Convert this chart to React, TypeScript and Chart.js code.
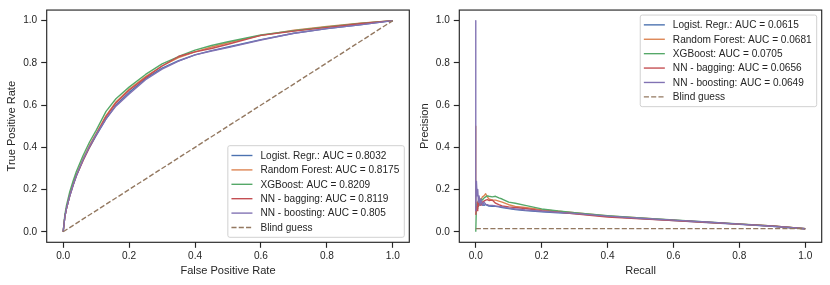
import React, { useEffect, useRef } from "react";
import { Chart, registerables } from "chart.js";

Chart.register(...registerables);

// ---------- data ----------
const modelNames = ["Logist. Regr.", "Random Forest", "XGBoost", "NN - bagging", "NN - boosting"];
const rocAucLabels = ["0.8032", "0.8175", "0.8209", "0.8119", "0.805"];
const prAucLabels = ["0.0615", "0.0681", "0.0705", "0.0656", "0.0649"];
const blindLabel = "Blind guess";

const rocFpr = [0, 0.005, 0.01, 0.02, 0.03, 0.04, 0.06, 0.08, 0.1, 0.13, 0.16, 0.2, 0.25, 0.3, 0.35, 0.4, 0.45, 0.5, 0.6, 0.7, 0.8, 0.9, 1.0];
const rocTprLogit = [0, 0.07, 0.11, 0.17, 0.22, 0.265, 0.34, 0.40, 0.455, 0.535, 0.60, 0.66, 0.725, 0.775, 0.81, 0.838, 0.858, 0.875, 0.91, 0.94, 0.962, 0.98, 1.0];
const rocTprForest = [0, 0.07, 0.11, 0.175, 0.225, 0.27, 0.345, 0.41, 0.465, 0.55, 0.615, 0.675, 0.735, 0.785, 0.825, 0.852, 0.875, 0.895, 0.93, 0.955, 0.972, 0.988, 1.0];
const rocTprXgb = [0, 0.08, 0.125, 0.19, 0.24, 0.285, 0.36, 0.425, 0.48, 0.57, 0.63, 0.685, 0.745, 0.795, 0.83, 0.86, 0.882, 0.90, 0.932, 0.952, 0.97, 0.987, 1.0];
const rocTprBagging = [0, 0.07, 0.11, 0.17, 0.22, 0.265, 0.335, 0.40, 0.46, 0.545, 0.61, 0.67, 0.73, 0.785, 0.83, 0.852, 0.868, 0.888, 0.93, 0.95, 0.968, 0.985, 1.0];
const rocTprBoosting = [0, 0.07, 0.11, 0.17, 0.22, 0.265, 0.34, 0.405, 0.46, 0.535, 0.595, 0.652, 0.72, 0.77, 0.808, 0.838, 0.856, 0.872, 0.908, 0.94, 0.962, 0.98, 1.0];
const rocBlindX = [0, 1];
const rocBlindY = [0, 1];

const prRecall = [0, 0, 0.002, 0.004, 0.006, 0.008, 0.01, 0.013, 0.016, 0.02, 0.025, 0.03, 0.035, 0.04, 0.05, 0.06, 0.07, 0.08, 0.1, 0.12, 0.15, 0.2, 0.25, 0.3, 0.4, 0.5, 0.6, 0.7, 0.8, 0.9, 1.0];
const prPrecLogit = [0.14, 0.14, 0.12, 0.135, 0.125, 0.14, 0.13, 0.125, 0.135, 0.13, 0.125, 0.13, 0.125, 0.122, 0.12, 0.12, 0.118, 0.115, 0.11, 0.105, 0.10, 0.095, 0.09, 0.086, 0.073, 0.063, 0.053, 0.044, 0.035, 0.026, 0.014];
const prPrecForest = [0.5, 0.1, 0.11, 0.14, 0.12, 0.15, 0.14, 0.155, 0.15, 0.165, 0.17, 0.18, 0.165, 0.155, 0.15, 0.15, 0.145, 0.14, 0.128, 0.12, 0.115, 0.105, 0.097, 0.09, 0.075, 0.065, 0.055, 0.045, 0.036, 0.027, 0.014];
const prPrecXgb = [0.0, 0.0, 0.13, 0.11, 0.14, 0.12, 0.15, 0.14, 0.155, 0.15, 0.16, 0.165, 0.17, 0.168, 0.165, 0.168, 0.16, 0.155, 0.14, 0.135, 0.125, 0.108, 0.098, 0.09, 0.076, 0.065, 0.056, 0.046, 0.037, 0.027, 0.014];
const prPrecBagging = [0.08, 0.08, 0.12, 0.1, 0.14, 0.12, 0.13, 0.145, 0.125, 0.14, 0.145, 0.15, 0.152, 0.148, 0.15, 0.135, 0.128, 0.122, 0.118, 0.115, 0.11, 0.1, 0.093, 0.085, 0.07, 0.061, 0.053, 0.045, 0.036, 0.027, 0.014];
const prPrecBoosting = [1.0, 0.1, 0.24, 0.17, 0.2, 0.14, 0.17, 0.13, 0.155, 0.125, 0.14, 0.13, 0.128, 0.125, 0.125, 0.122, 0.12, 0.118, 0.112, 0.108, 0.103, 0.097, 0.092, 0.087, 0.074, 0.064, 0.055, 0.046, 0.036, 0.026, 0.014];
const prBlindX = [0, 1];
const prBlindY = [0.015, 0.015];

const tickValues = [0, 0.2, 0.4, 0.6, 0.8, 1.0];
const axisMin = -0.05;
const axisMax = 1.05;

// ---------- style ----------
const palette = ["#4C72B0", "#DD8452", "#55A868", "#C44E52", "#8172B3"];
const blindColor = "#937860";
const ink = "#262626";
const family = "'Liberation Sans', Arial, Helvetica, sans-serif";
const LW = 1.38;
const DASH = [5.1, 2.2];

const zip = (xs: number[], ys: number[]) => xs.map((x, i) => ({ x, y: ys[i] }));

function buildDatasets(xs: number[], series: number[][], aucs: string[], bx: number[], by: number[]) {
  const ds: any[] = series.map((ys, i) => ({
    label: `${modelNames[i]}: AUC = ${aucs[i]}`,
    data: zip(xs, ys),
    borderColor: palette[i],
    backgroundColor: palette[i],
    borderWidth: LW,
    pointRadius: 0,
    tension: 0,
    fill: false,
    borderJoinStyle: "round",
    order: 10 - i,
  }));
  ds.push({
    label: blindLabel,
    data: zip(bx, by),
    borderColor: blindColor,
    backgroundColor: blindColor,
    borderWidth: LW,
    borderDash: DASH,
    pointRadius: 0,
    tension: 0,
    fill: false,
    order: 0,
  });
  return ds;
}

const framePlugin = {
  id: "mplFrame",
  afterDatasetsDraw(chart: any) {
    const { ctx, chartArea } = chart;
    ctx.save();
    ctx.strokeStyle = ink;
    ctx.lineWidth = 1.15;
    ctx.strokeRect(chartArea.left, chartArea.top, chartArea.right - chartArea.left, chartArea.bottom - chartArea.top);
    ctx.restore();
  },
};

const legendPlugin = {
  id: "mplLegend",
  afterDraw(chart: any, _args: any, opts: any) {
    const { ctx, chartArea } = chart;
    const ds = chart.data.datasets;
    const fontSize = 10.1;
    const rowH = 14.4;
    const padY = 2.6;
    const padL = 3.6;
    const padR = 5;
    const handle = 21;
    const gap = 8;
    const margin = 5;
    ctx.save();
    ctx.font = `${fontSize}px ${family}`;
    const maxW = Math.max(...ds.map((d: any) => ctx.measureText(d.label).width));
    const w = padL + handle + gap + maxW + padR;
    const h = ds.length * rowH + 2 * padY;
    const x = chartArea.right - margin - w;
    const y = opts.loc === "lower right" ? chartArea.bottom - margin - h : chartArea.top + margin;
    const r = 2;
    ctx.beginPath();
    ctx.moveTo(x + r, y);
    ctx.lineTo(x + w - r, y);
    ctx.arcTo(x + w, y, x + w, y + r, r);
    ctx.lineTo(x + w, y + h - r);
    ctx.arcTo(x + w, y + h, x + w - r, y + h, r);
    ctx.lineTo(x + r, y + h);
    ctx.arcTo(x, y + h, x, y + h - r, r);
    ctx.lineTo(x, y + r);
    ctx.arcTo(x, y, x + r, y, r);
    ctx.closePath();
    ctx.fillStyle = "rgba(255,255,255,0.8)";
    ctx.fill();
    ctx.strokeStyle = "#cccccc";
    ctx.lineWidth = 0.9;
    ctx.stroke();
    ds.forEach((d: any, i: number) => {
      const cy = y + padY + rowH * (i + 0.5);
      ctx.beginPath();
      ctx.setLineDash(d.borderDash || []);
      ctx.strokeStyle = d.borderColor;
      ctx.lineWidth = d.borderWidth;
      ctx.moveTo(x + padL, cy);
      ctx.lineTo(x + padL + handle, cy);
      ctx.stroke();
      ctx.setLineDash([]);
      ctx.fillStyle = ink;
      ctx.textAlign = "left";
      ctx.textBaseline = "middle";
      ctx.fillText(d.label, x + padL + handle + gap, cy + 0.5);
    });
    ctx.restore();
  },
};

function makeScale(kind: "x" | "y", title: string, fixedSize: number, titlePad: any) {
  return {
    type: "linear",
    min: axisMin,
    max: axisMax,
    afterBuildTicks: (s: any) => {
      s.ticks = tickValues.map((v) => ({ value: v }));
    },
    afterFit: (s: any) => {
      if (kind === "x") s.height = fixedSize;
      else s.width = fixedSize;
    },
    ticks: {
      callback: (v: any) => Number(v).toFixed(1),
      font: { family, size: 10.1 },
      color: ink,
      padding: kind === "x" ? 2 : 4,
      maxRotation: 0,
      autoSkip: false,
    },
    grid: {
      drawOnChartArea: false,
      drawTicks: true,
      tickLength: 5.5,
      tickWidth: 1.15,
      tickColor: ink,
    },
    border: { display: false },
    title: {
      display: true,
      text: title,
      font: { family, size: 11.05 },
      color: ink,
      padding: titlePad,
    },
  };
}

function makeConfig(p: {
  datasets: any[];
  xTitle: string;
  yTitle: string;
  yWidth: number;
  yTitleTop: number;
  rightPad: number;
  loc: string;
}) {
  return {
    type: "line",
    data: { datasets: p.datasets },
    options: {
      animation: false,
      responsive: false,
      maintainAspectRatio: false,
      devicePixelRatio: 1,
      layout: { padding: { left: 0, top: 7.3, right: p.rightPad, bottom: 0 } },
      plugins: {
        legend: { display: false },
        tooltip: { enabled: false },
        mplLegend: { loc: p.loc },
      },
      scales: {
        x: makeScale("x", p.xTitle, 42.7, { top: 0, bottom: 7.7 }),
        y: makeScale("y", p.yTitle, p.yWidth, { top: p.yTitleTop, bottom: 0 }),
      },
    },
    plugins: [framePlugin, legendPlugin],
  };
}

function ChartPanel({ config, left }: { config: any; left: number }) {
  const ref = useRef<HTMLCanvasElement | null>(null);
  useEffect(() => {
    if (!ref.current) return;
    const chart = new Chart(ref.current, config);
    return () => chart.destroy();
  }, []);
  return (
    <canvas
      ref={ref}
      width={415}
      height={285}
      style={{ position: "absolute", left, top: 0, width: 415, height: 285 }}
    />
  );
}

export default function App() {
  const rocConfig = makeConfig({
    datasets: buildDatasets(
      rocFpr,
      [rocTprLogit, rocTprForest, rocTprXgb, rocTprBagging, rocTprBoosting],
      rocAucLabels,
      rocBlindX,
      rocBlindY
    ),
    xTitle: "False Positive Rate",
    yTitle: "True Positive Rate",
    yWidth: 46.7,
    yTitleTop: 5.7,
    rightPad: 5.7,
    loc: "lower right",
  });
  const prConfig = makeConfig({
    datasets: buildDatasets(
      prRecall,
      [prPrecLogit, prPrecForest, prPrecXgb, prPrecBagging, prPrecBoosting],
      prAucLabels,
      prBlindX,
      prBlindY
    ),
    xTitle: "Recall",
    yTitle: "Precision",
    yWidth: 44.3,
    yTitleTop: 3.7,
    rightPad: 8.3,
    loc: "upper right",
  });
  return (
    <div style={{ position: "absolute", left: 0, top: 0, width: 830, height: 285, background: "#ffffff" }}>
      <ChartPanel config={rocConfig} left={0} />
      <ChartPanel config={prConfig} left={415} />
    </div>
  );
}
